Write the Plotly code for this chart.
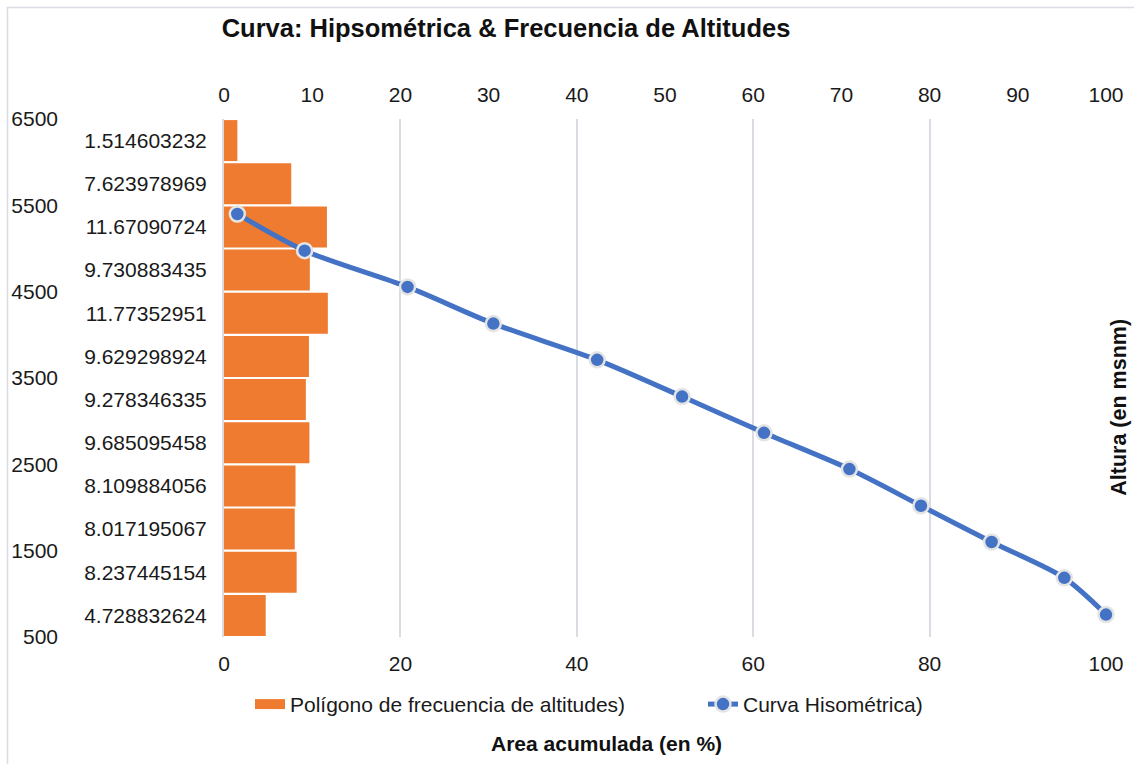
import plotly.graph_objects as go

# Frecuencia de altitudes por clase (porcentaje de área), de la clase más alta a la más baja
frecuencia = [1.514603232, 7.623978969, 11.67090724, 9.730883435, 11.77352951, 9.629298924,
              9.278346335, 9.685095458, 8.109884056, 8.017195067, 8.237445154, 4.728832624]
etiquetas_clase = [f"{v:.10g}" for v in frecuencia]

# Curva hipsométrica: área acumulada (%) y altitud (msnm)
area_acumulada = [1.51, 9.14, 20.81, 30.54, 42.31, 51.94, 61.22, 70.91, 79.02, 87.03, 95.27, 100.0]
altitud = [5400, 4975, 4555, 4130, 3710, 3285, 2865, 2445, 2020, 1600, 1185, 760]

W, H = 1134, 764
L, R, T, B = 0, 28, 119, 126.5
PW = W - L - R
PH = H - T - B


def px_x(px):
    return (px - L) / PW


def px_y(py):
    return (H - B - py) / PH


FONT = "Liberation Sans, Arial, sans-serif"
GRID = "#D9DCE3"
ORANGE = "#EE7B2F"
BLUE = "#4472C4"
TXT = "#1A1A1A"

fig = go.Figure()

fig.add_trace(go.Bar(
    x=frecuencia,
    y=etiquetas_clase,
    orientation="h",
    name="Polígono de frecuencia de altitudes)",
    marker=dict(color=ORANGE, line=dict(width=0)),
    showlegend=False,
    legendgroup="frecuencia",
    xaxis="x", yaxis="y",
))

# Legend swatch for the bars, drawn as a wide band like the line entry
fig.add_trace(go.Scatter(
    x=[None], y=[None],
    mode="lines",
    name="Polígono de frecuencia de altitudes)",
    line=dict(color=ORANGE, width=12),
    legendgroup="frecuencia",
    xaxis="x", yaxis="y",
))

fig.add_trace(go.Scatter(
    x=area_acumulada,
    y=altitud,
    mode="lines+markers",
    name="Curva Hisométrica)",
    line=dict(color=BLUE, width=5, shape="spline", smoothing=0.8),
    marker=dict(size=15, color=BLUE, line=dict(color="#E4E4E4", width=2.5)),
    cliponaxis=False,
    xaxis="x2", yaxis="y2",
))

tick_font = dict(family=FONT, size=21, color=TXT)

fig.update_layout(
    width=W, height=H,
    margin=dict(l=L, r=R, t=T, b=B, autoexpand=False),
    paper_bgcolor="white", plot_bgcolor="white",
    font=dict(family=FONT, size=21, color=TXT),
    bargap=0.05,
    showlegend=True,
    title=dict(
        text="<b>Curva: Hipsométrica & Frecuencia de Altitudes</b>",
        font=dict(family=FONT, size=25.5, color="#111111"),
        x=px_x(506), xref="paper", xanchor="center",
        y=1 - 28 / H, yref="container", yanchor="middle",
    ),
    xaxis=dict(
        domain=[px_x(224), 1], range=[0, 100], dtick=20, tick0=0,
        showgrid=True, gridcolor=GRID, gridwidth=1.5, zeroline=False,
        showline=False, ticks="", ticklabelstandoff=12,
        tickfont=tick_font, anchor="y", fixedrange=True,
    ),
    xaxis2=dict(
        overlaying="x", side="top", range=[0, 100], dtick=10, tick0=0,
        showgrid=False, zeroline=False, showline=False, ticks="",
        ticklabelstandoff=12, tickfont=tick_font, anchor="y",
    ),
    yaxis=dict(
        type="category", categoryorder="array", categoryarray=etiquetas_clase,
        range=[len(frecuencia) - 0.5, -0.5], showgrid=False, zeroline=False,
        showline=True, linecolor=GRID, linewidth=2, ticks="",
        ticklabelstandoff=11, tickfont=tick_font, anchor="x",
    ),
    yaxis2=dict(
        overlaying="y", side="left", anchor="free", position=px_x(58),
        range=[500, 6500], dtick=1000, tick0=500, showgrid=False,
        zeroline=False, showline=False, ticks="", tickfont=tick_font,
    ),
    legend=dict(
        orientation="h", x=px_x(250), xanchor="left",
        y=px_y(705), yanchor="middle",
        font=dict(family=FONT, size=21, color=TXT),
        entrywidth=408, entrywidthmode="pixels",
        bgcolor="rgba(0,0,0,0)",
    ),
    annotations=[
        dict(text="<b>Area acumulada (en %)</b>", x=px_x(606), y=px_y(744),
             xref="paper", yref="paper", showarrow=False,
             xanchor="center", yanchor="middle",
             font=dict(family=FONT, size=21, color="#111111")),
        dict(text="<b>Altura (en msnm)</b>", x=px_x(1119), y=px_y(408),
             xref="paper", yref="paper", showarrow=False, textangle=-90,
             xanchor="center", yanchor="middle",
             font=dict(family=FONT, size=21.5, color="#111111")),
    ],
    shapes=[
        dict(type="rect", xref="paper", yref="paper",
             x0=px_x(7.5), x1=px_x(1145), y0=px_y(780), y1=px_y(7.5),
             line=dict(color=GRID, width=1.5), fillcolor="rgba(0,0,0,0)", layer="below"),
    ],
)

fig.write_html("out.html")
